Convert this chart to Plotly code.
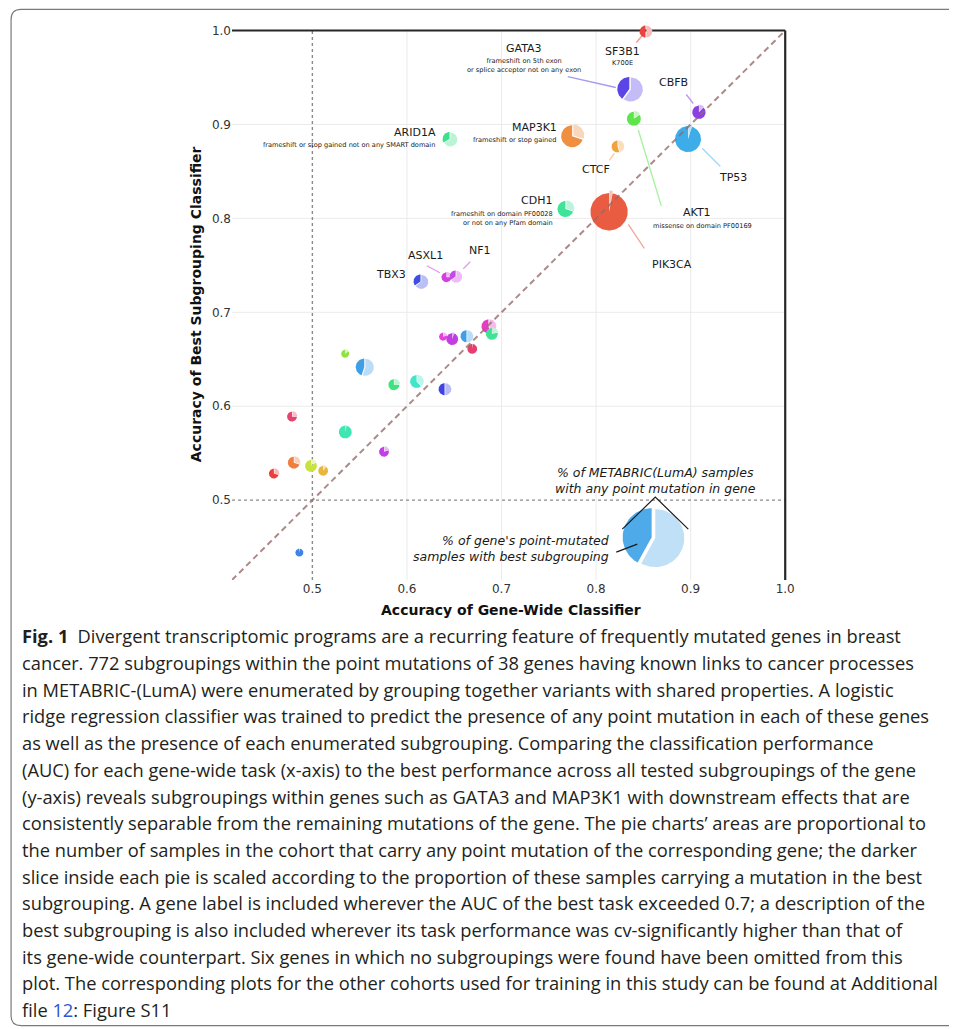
import numpy as np
import plotly.graph_objects as go

# ---------------- data ----------------
gene_names = ["SF3B1", "GATA3", "CBFB", "AKT1", "TP53", "MAP3K1", "ARID1A", "CTCF",
              "CDH1", "PIK3CA", "TBX3", "ASXL1", "NF1"] + [""] * 19

gene_wide_acc = [0.8531, 0.8367, 0.9091, 0.8404, 0.8975, 0.7759, 0.6459, 0.8235,
                 0.7685, 0.8140, 0.6152, 0.6422, 0.6522,
                 0.6385, 0.6480, 0.6638, 0.6871, 0.6903, 0.6691, 0.5349, 0.5560,
                 0.5867, 0.6110, 0.6406, 0.4789, 0.5349, 0.5761, 0.4810, 0.4989,
                 0.5116, 0.4598, 0.4863]

best_subgroup_acc = [0.9989, 0.9372, 0.9138, 0.9069, 0.8862, 0.8883, 0.8840, 0.8766,
                     0.8106, 0.8096, 0.7324, 0.7378, 0.7378,
                     0.6745, 0.6723, 0.6745, 0.6851, 0.6777, 0.6617, 0.6564, 0.6415,
                     0.6234, 0.6266, 0.6181, 0.5894, 0.5734, 0.5521, 0.5404, 0.5372,
                     0.5319, 0.5287, 0.4447]

# % of cohort samples with any point mutation in the gene
pct_mutated = [3.5, 14.1, 4.4, 4.8, 16.5, 11.8, 4.8, 3.5,
               6.25, 34.0, 4.8, 2.4, 3.5,
               1.6, 3.5, 3.5, 4.8, 3.5, 2.4, 1.6, 7.1,
               3.0, 4.1, 3.5, 2.4, 4.1, 2.4, 3.5, 3.5,
               2.4, 2.4, 1.6]

# fraction of gene's mutated samples in the best subgrouping
best_subgroup_frac = [0.50, 0.40, 0.88, 0.85, 0.95, 0.70, 0.33, 0.55,
                      0.70, 0.97, 0.35, 0.75, 0.35,
                      0.80, 0.95, 0.50, 0.55, 0.78, 0.98, 0.85, 0.45,
                      0.75, 0.62, 0.50, 0.75, 0.97, 0.80, 0.70, 0.85,
                      0.90, 0.70, 0.97]

subgroup_desc = {
    "SF3B1": "K700E",
    "GATA3": "frameshift on 5th exon<br>or splice acceptor not on any exon",
    "AKT1": "missense on domain PF00169",
    "MAP3K1": "frameshift or stop gained",
    "ARID1A": "frameshift or stop gained not on any SMART domain",
    "CDH1": "frameshift on domain PF00028<br>or not on any Pfam domain",
}

legend_frac = 0.42
tick_vals = [0.5, 0.6, 0.7, 0.8, 0.9, 1.0]
tick_text = ["0.5", "0.6", "0.7", "0.8", "0.9", "1.0"]

caption_lines = [
    "<b>Fig. 1</b>\u2002Divergent transcriptomic programs are a recurring feature of frequently mutated genes in breast",
    "cancer. 772 subgroupings within the point mutations of 38 genes having known links to cancer processes",
    "in METABRIC-(LumA) were enumerated by grouping together variants with shared properties. A logistic",
    "ridge regression classifier was trained to predict the presence of any point mutation in each of these genes",
    "as well as the presence of each enumerated subgrouping. Comparing the classification performance",
    "(AUC) for each gene-wide task (x-axis) to the best performance across all tested subgroupings of the gene",
    "(y-axis) reveals subgroupings within genes such as GATA3 and MAP3K1 with downstream effects that are",
    "consistently separable from the remaining mutations of the gene. The pie charts\u2019 areas are proportional to",
    "the number of samples in the cohort that carry any point mutation of the corresponding gene; the darker",
    "slice inside each pie is scaled according to the proportion of these samples carrying a mutation in the best",
    "subgrouping. A gene label is included wherever the AUC of the best task exceeded 0.7; a description of the",
    "best subgrouping is also included wherever its task performance was cv-significantly higher than that of",
    "its gene-wide counterpart. Six genes in which no subgroupings were found have been omitted from this",
    "plot. The corresponding plots for the other cohorts used for training in this study can be found at Additional",
    "file <span style='color:#2f55d4'>12</span>: Figure S11",
]

# ---------------- styles / layout ----------------
gene_colors = ["#e8433f", "#5b45e6", "#8a40e3", "#5ce64a", "#3cade8", "#ef8f3f", "#3fe08b", "#efa33f",
               "#3fe39a", "#e95c42", "#3f4de3", "#d43fe3", "#c549e3",
               "#e63fdf", "#c03fe0", "#3f9ee8", "#e33fc3", "#3fe394", "#e63f6c", "#8ee33f", "#3f9fe6",
               "#3fe27e", "#3fe6c8", "#3f43e0", "#e8426f", "#3fe6b3", "#c43fe3", "#ef7f3f", "#c8e33f",
               "#e8b63f", "#e8403f", "#3f83e8"]
legend_color = "#4eaae9"

PAGE = 8                          # browser page margin around the figure
W, H = 957 - PAGE, 1029 - PAGE
XR = [0.415, 1.004]
YR = [0.415, 1.008]
PXX, PXY = 946.0, 940.0           # pixels per data unit
SCR_LEFT, SCR_BOTTOM = 232.0, 580.0   # plot edges in screen pixels
M_L = SCR_LEFT - PAGE
M_B = H - (SCR_BOTTOM - PAGE)
plot_w = (XR[1] - XR[0]) * PXX
plot_h = (YR[1] - YR[0]) * PXY
M_R = W - M_L - plot_w
M_T = H - M_B - plot_h

R_SCALE = 3.2
EXPLODE = 0.13
LEGEND_POS = (0.8626, 0.4596)
LEGEND_R = 29.0

FONT = "DejaVu Sans"


def paper_x(sx):
    return (sx - PAGE - M_L) / plot_w


def paper_y(sy):
    return (H - M_B - (sy - PAGE)) / plot_h


def lighten(hexc, f=0.64):
    h = hexc.lstrip("#")
    rgb = [int(h[i:i + 2], 16) for i in (0, 2, 4)]
    rgb = [round(c + (255 - c) * f) for c in rgb]
    return "#%02x%02x%02x" % tuple(rgb)


def wedge(cx, cy, r, a0, a1, shift=0.0):
    mid = np.radians((a0 + a1) / 2.0)
    ox, oy = shift * np.cos(mid), shift * np.sin(mid)
    n = max(6, int(abs(a1 - a0) / 4) + 2)
    t = np.radians(np.linspace(a0, a1, n))
    xs = np.concatenate([[ox], ox + r * np.cos(t), [ox]]) / PXX + cx
    ys = np.concatenate([[oy], oy + r * np.sin(t), [oy]]) / PXY + cy
    return xs, ys


fig = go.Figure()


def add_pie(cx, cy, r, frac, color):
    split = 90 + 360 * frac
    lx, ly = wedge(cx, cy, r, split, 450)
    dx, dy = wedge(cx, cy, r, 90, split, shift=EXPLODE * r)
    for xs, ys, c in ((lx, ly, lighten(color)), (dx, dy, color)):
        fig.add_trace(go.Scatter(x=xs, y=ys, mode="lines", fill="toself", fillcolor=c,
                                 line=dict(width=0, color=c), hoverinfo="skip",
                                 showlegend=False))


for i in range(len(gene_wide_acc)):
    add_pie(gene_wide_acc[i], best_subgroup_acc[i], R_SCALE * np.sqrt(pct_mutated[i]),
            best_subgroup_frac[i], gene_colors[i])

add_pie(LEGEND_POS[0], LEGEND_POS[1], LEGEND_R, legend_frac, legend_color)

shapes = []
for v in tick_vals[1:-1]:
    shapes.append(dict(type="line", xref="x", yref="y", x0=v, x1=v, y0=YR[0], y1=1.0,
                       line=dict(color="#ebebeb", width=1), layer="below"))
    shapes.append(dict(type="line", xref="x", yref="y", x0=XR[0], x1=1.0, y0=v, y1=v,
                       line=dict(color="#ebebeb", width=1), layer="below"))
shapes.append(dict(type="line", xref="x", yref="y", x0=0.5, x1=0.5, y0=YR[0], y1=1.0,
                   line=dict(color="#8a8a8a", width=1.4, dash="dot"), layer="below"))
shapes.append(dict(type="line", xref="x", yref="y", x0=XR[0], x1=1.0, y0=0.5, y1=0.5,
                   line=dict(color="#8a8a8a", width=1.4, dash="dot"), layer="below"))
shapes.append(dict(type="line", xref="x", yref="y", x0=1.0, x1=1.0, y0=YR[0], y1=1.0,
                   line=dict(color="#262626", width=2.2), layer="below"))
shapes.append(dict(type="line", xref="x", yref="y", x0=XR[0], x1=1.0, y0=1.0, y1=1.0,
                   line=dict(color="#262626", width=2.2), layer="below"))
shapes.append(dict(type="line", xref="x", yref="y", x0=XR[0], x1=1.0, y0=XR[0], y1=1.0,
                   line=dict(color="rgba(150,105,105,0.78)", width=2, dash="6px,4px"),
                   layer="above"))

annotations = []

label_pos = {
    "SF3B1": (-24, 20, "center"), "GATA3": (-107, -41, "center"), "CBFB": (-26, -29, "center"),
    "AKT1": (63, 95, "center"), "TP53": (45, 40, "center"), "MAP3K1": (-14, -8, "right"),
    "ARID1A": (-12, -7, "right"), "CTCF": (-22, 23, "center"), "CDH1": (-12, -8, "right"),
    "PIK3CA": (63, 55, "center"), "TBX3": (-13, -7, "right"), "ASXL1": (-21, -21, "center"),
    "NF1": (24, -26, "center"),
}
desc_pos = {
    "SF3B1": (-24, 31, "center"), "GATA3": (-107, -24, "center"), "AKT1": (68, 108, "center"),
    "MAP3K1": (-14, 5, "right"), "ARID1A": (-13, 6, "right"), "CDH1": (-11, 10, "right"),
}
connectors = {
    "SF3B1": (-10, 11, -4, 4), "GATA3": (-63, -13, -15, -2), "CBFB": (-13, -17, -6, -8),
    "AKT1": (4, 12, 27, 88), "TP53": (14, 11, 32, 29), "CTCF": (-9, 14, -4, 7),
    "PIK3CA": (19, 15, 35, 39), "ASXL1": (-20, -11, -7, -4), "NF1": (7, -8, 14, -15),
}

for i, g in enumerate(gene_names):
    if not g:
        continue
    cx, cy = gene_wide_acc[i], best_subgroup_acc[i]
    dx, dy, xa = label_pos[g]
    annotations.append(dict(x=cx, y=cy, xref="x", yref="y", text=g, showarrow=False,
                            xshift=dx, yshift=-dy, xanchor=xa, yanchor="middle",
                            font=dict(family=FONT, size=11, color="#1a1a1a")))
    if g in subgroup_desc:
        dx, dy, xa = desc_pos[g]
        annotations.append(dict(x=cx, y=cy, xref="x", yref="y", text=subgroup_desc[g],
                                showarrow=False, xshift=dx, yshift=-dy, xanchor=xa,
                                yanchor="middle", align=xa,
                                font=dict(family=FONT, size=6.6, color="#1a1a1a")))
    if g in connectors:
        a, b, c, d = connectors[g]
        shapes.append(dict(type="line", xref="x", yref="y",
                           x0=cx + a / PXX, y0=cy - b / PXY, x1=cx + c / PXX, y1=cy - d / PXY,
                           line=dict(color=lighten(gene_colors[i], 0.45), width=1.3),
                           layer="below"))

lx, ly = LEGEND_POS
annotations.append(dict(x=lx, y=ly, xref="x", yref="y", showarrow=False, xshift=0, yshift=58,
                        text="<i>% of METABRIC(LumA) samples<br>with any point mutation in gene</i>",
                        xanchor="center", yanchor="middle", align="center",
                        font=dict(family=FONT, size=12.5, color="#1a1a1a")))
annotations.append(dict(x=lx, y=ly, xref="x", yref="y", showarrow=False, xshift=-44, yshift=-10,
                        text="<i>% of gene's point-mutated<br>samples with best subgrouping</i>",
                        xanchor="right", yanchor="middle", align="right",
                        font=dict(family=FONT, size=12.5, color="#1a1a1a")))
caret = [(-33, -9), (0, -41), (33, -9)]
shapes.append(dict(type="path", xref="x", yref="y",
                   path="M " + " L ".join(f"{lx + a / PXX},{ly - b / PXY}" for a, b in caret),
                   line=dict(color="#1a1a1a", width=1.2)))
shapes.append(dict(type="line", xref="x", yref="y", x0=lx - 39 / PXX, y0=ly - 14 / PXY,
                   x1=lx - 18 / PXX, y1=ly - 6 / PXY, line=dict(color="#1a1a1a", width=1.2)))

annotations.append(dict(x=paper_x(511), y=paper_y(610), xref="paper", yref="paper",
                        text="<b>Accuracy of Gene-Wide Classifier</b>", showarrow=False,
                        xanchor="center", yanchor="middle",
                        font=dict(family=FONT, size=14, color="#111111")))
annotations.append(dict(x=paper_x(196), y=paper_y(304), xref="paper", yref="paper",
                        text="<b>Accuracy of Best Subgrouping Classifier</b>", showarrow=False,
                        textangle=-90, xanchor="center", yanchor="middle",
                        font=dict(family=FONT, size=14, color="#111111")))

for k, line in enumerate(caption_lines):
    annotations.append(dict(x=paper_x(20), y=paper_y(636 + k * 26.7), xref="paper", yref="paper",
                            text=line, showarrow=False, xanchor="left", yanchor="middle",
                            font=dict(family="Open Sans", size=18.3, color="#231f20")))

# figure frame (rounded box, open on the right side), screen coordinates
bx0, by0, bx1, by1, rr = 11, 9, 1100, 1026, 10
frame = (f"M {paper_x(bx1)},{paper_y(by1)} L {paper_x(bx0 + rr)},{paper_y(by1)} "
         f"Q {paper_x(bx0)},{paper_y(by1)} {paper_x(bx0)},{paper_y(by1 - rr)} "
         f"L {paper_x(bx0)},{paper_y(by0 + rr)} Q {paper_x(bx0)},{paper_y(by0)} {paper_x(bx0 + rr)},{paper_y(by0)} "
         f"L {paper_x(bx1)},{paper_y(by0)}")
shapes.append(dict(type="path", xref="paper", yref="paper", path=frame,
                   line=dict(color="#7a7a7a", width=1.2), layer="below"))

axis_common = dict(showgrid=False, zeroline=False, showline=False, ticks="",
                   tickvals=tick_vals, ticktext=tick_text,
                   tickfont=dict(family=FONT, size=12, color="#333333"))

fig.update_layout(
    width=W, height=H,
    margin=dict(l=M_L, r=M_R, t=M_T, b=M_B, pad=0),
    paper_bgcolor="white", plot_bgcolor="white",
    xaxis=dict(range=XR, **axis_common),
    yaxis=dict(range=YR, **axis_common),
    shapes=shapes, annotations=annotations, showlegend=False,
)

fig.write_html("out.html")
